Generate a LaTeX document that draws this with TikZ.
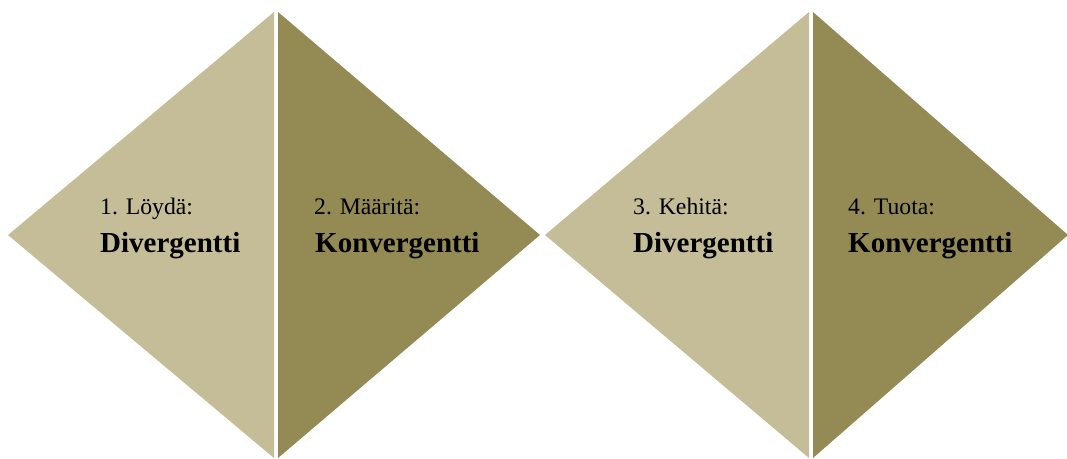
\documentclass[tikz,border=0pt]{standalone}
\usepackage{fontspec}
\setmainfont{Liberation Serif}
\definecolor{lighttan}{HTML}{C4BD97}
\definecolor{darktan}{HTML}{948A54}
\begin{document}
\begin{tikzpicture}[x=1pt,y=-1pt,
  small/.style={anchor=base west,inner sep=0pt,font=\fontsize{23.7}{28}\selectfont},
  big/.style={anchor=base west,inner sep=0pt,font=\fontsize{29}{34}\bfseries\selectfont}]
\useasboundingbox (0,0) rectangle (1067,458);
\fill[lighttan] (8,235) -- (274,12) -- (274,458) -- cycle;
\fill[darktan] (278,12) -- (278,458) -- (540,235) -- cycle;
\fill[lighttan] (545,235) -- (809,12) -- (809,458) -- cycle;
\fill[darktan] (813,12) -- (813,458) -- (1068,235) -- cycle;
\node[small] (l1) at (100,214) {1. Löydä:};
\node[big] (b1) at (100,252) {Divergentti};
\node[small] (l2) at (314,214) {2. Määritä:};
\node[big] (b2) at (315,252) {Konvergentti};
\node[small] (l3) at (633,214) {3. Kehitä:};
\node[big] (b3) at (633,252) {Divergentti};
\node[small] (l4) at (848,214) {4. Tuota:};
\node[big] (b4) at (848,252) {Konvergentti};
\end{tikzpicture}
\end{document}
